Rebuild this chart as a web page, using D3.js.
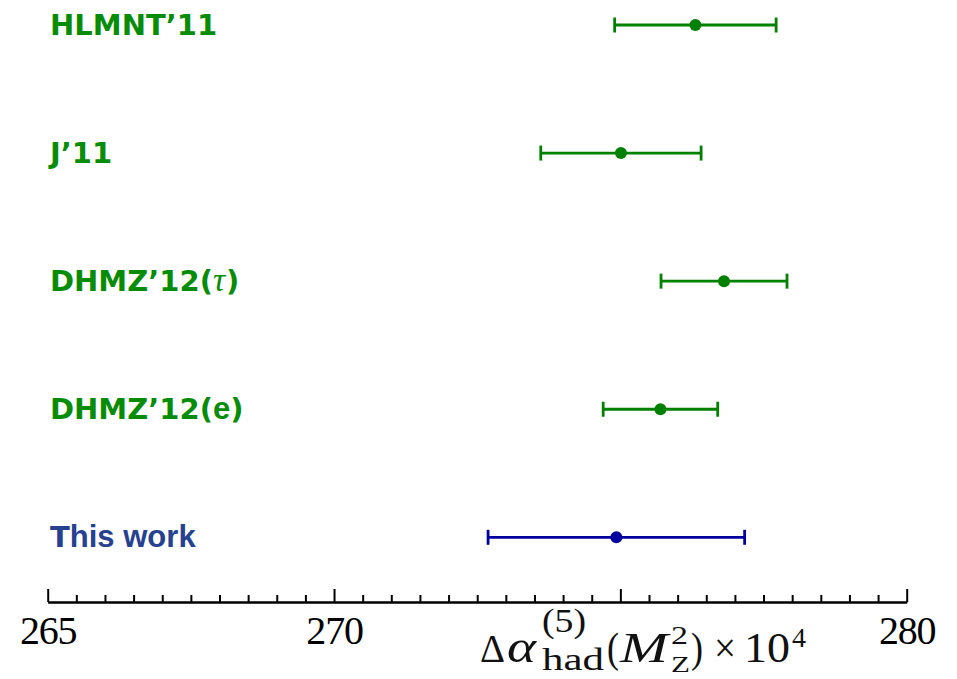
<!DOCTYPE html>
<html><head><meta charset="utf-8">
<script src="https://cdn.jsdelivr.net/npm/d3@7"></script>
<style>body{margin:0;background:#fff}svg{display:block}</style>
</head><body>
<svg id="c" width="957" height="679"></svg>
<script>
const labels = ["HLMNT’11", "J’11", "DHMZ’12(τ)", "DHMZ’12(e)", "This work"];
const centers = [276.31, 275.01, 276.81, 275.70, 274.93];
const errors = [1.41, 1.40, 1.10, 1.00, 2.24];
const groups = ["other", "other", "other", "other", "this"];
const tickLabels = [265, 270, 275, 280];

const svg = d3.select("#c");
const x = d3.scaleLinear().domain([265, 280]).range([47.7, 906.7]);
const y = d3.scalePoint().domain(labels).range([25, 537.3]);
const barColor = {other: "#008000", this: "#00009f"};
const textColor = {other: "#078c07", this: "#26418f"};
const axisY = 602;

// axis: minor ticks
const minor = d3.range(265, 280.001, 0.5).filter(v => Math.abs(v % 5) > 1e-6);
svg.append("g").attr("transform", `translate(0,${axisY})`)
  .call(d3.axisBottom(x).tickValues(minor).tickSizeInner(-7).tickSizeOuter(0).tickFormat(""))
  .call(g => g.selectAll("path,line").attr("stroke", "#000").attr("stroke-width", 2));
const ax = svg.append("g").attr("transform", `translate(0,${axisY})`)
  .call(d3.axisBottom(x).tickValues(tickLabels).tickSizeInner(-13).tickSizeOuter(0).tickPadding(42).tickFormat(d3.format("d")))
  .call(g => g.selectAll("path,line").attr("stroke", "#000").attr("stroke-width", 2));
ax.selectAll("text").attr("font-family", "'Liberation Serif', 'Times New Roman', serif")
  .attr("font-size", 40).attr("letter-spacing", -1.2).attr("fill", "#000").attr("dy", 0)
  .filter(d => d === 275).remove();

// error bars
const rows = labels.map((l, i) => ({label: l, c: centers[i], e: errors[i], g: groups[i]}));
const capH = 7.5;
const gr = svg.append("g").selectAll("g").data(rows).join("g");
gr.append("line").attr("x1", d => x(d.c - d.e)).attr("x2", d => x(d.c + d.e))
  .attr("y1", d => y(d.label)).attr("y2", d => y(d.label))
  .attr("stroke", d => barColor[d.g]).attr("stroke-width", 2.8);
gr.append("line").attr("x1", d => x(d.c - d.e)).attr("x2", d => x(d.c - d.e))
  .attr("y1", d => y(d.label) - capH).attr("y2", d => y(d.label) + capH)
  .attr("stroke", d => barColor[d.g]).attr("stroke-width", 2.8);
gr.append("line").attr("x1", d => x(d.c + d.e)).attr("x2", d => x(d.c + d.e))
  .attr("y1", d => y(d.label) - capH).attr("y2", d => y(d.label) + capH)
  .attr("stroke", d => barColor[d.g]).attr("stroke-width", 2.8);
gr.append("circle").attr("cx", d => x(d.c)).attr("cy", d => y(d.label)).attr("r", 6)
  .attr("fill", d => barColor[d.g]);

// row labels (Computer-Modern-sans-like: wide capitals, narrow lowercase)
const lt = svg.append("g").selectAll("text").data(rows).join("text")
  .attr("x", 50).attr("y", d => y(d.label) + 10)
  .attr("font-family", "'DejaVu Sans', sans-serif").attr("font-weight", "bold")
  .attr("font-size", 29)
  .attr("fill", d => textColor[d.g]);
lt.each(function(d) {
  const t = d3.select(this);
  for (const ch of d.label) {
    const s = t.append("tspan").text(ch);
    if (ch === "τ") {
      s.attr("font-family", "'Liberation Serif', serif").attr("font-style", "italic")
        .attr("font-weight", "normal").attr("font-size", 34).attr("letter-spacing", 1);
    } else if (/[a-z ]/.test(ch)) {
      s.attr("font-family", "'Liberation Sans', Arial, sans-serif").attr("font-size", 31);
    }
  }
});

// axis title: Δα^(5)_had (M_Z^2) × 10^4
const serif = "'Liberation Serif', 'Times New Roman', serif";
const base = 662;
function piece(txt, px, w, size, dy, italic) {
  svg.append("text").attr("x", px).attr("y", base + dy)
    .attr("font-family", serif).attr("font-size", size)
    .attr("font-style", italic ? "italic" : "normal").attr("fill", "#111")
    .attr("textLength", w).attr("lengthAdjust", "spacingAndGlyphs").text(txt);
}
piece("Δ", 480, 25, 40, 0, false);
piece("α", 507, 29, 46, 0, true);
piece("(5)", 542, 44, 33, -30, false);
piece("had", 542, 62, 32, 8, false);
piece("(", 607, 12, 42, 0, false);
piece("M", 620, 48, 42, 0, true);
piece("2", 671, 17, 26, -18, false);
piece("Z", 671, 19, 24, 10, false);
piece(")", 691, 12, 42, 0, false);
piece("×", 714, 22, 42, 0, false);
piece("10", 744, 46, 43, 0, false);
piece("4", 792, 14, 28, -15, false);
</script>
</body></html>
